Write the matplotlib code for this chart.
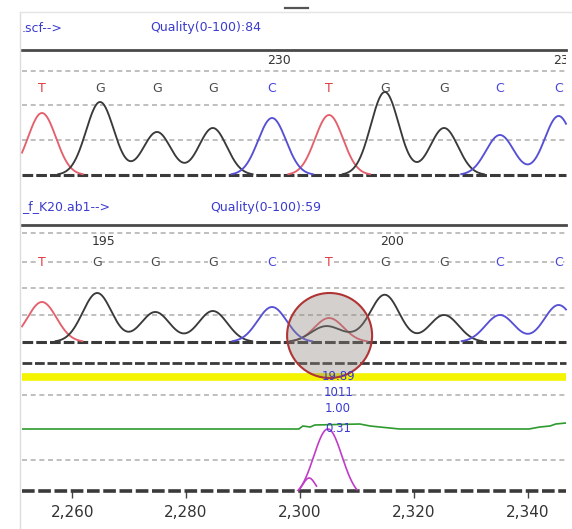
import numpy as np
import matplotlib
matplotlib.use("Agg")
import matplotlib.pyplot as plt
from matplotlib.patches import Ellipse
from matplotlib.lines import Line2D

# ---------------- data ----------------
bases = ['T', 'G', 'G', 'G', 'C', 'T', 'G', 'G', 'C', 'C']
top_file = ".scf-->"
top_quality = 84
bot_file = "_f_K20.ab1-->"
bot_quality = 59

top_peak_pos = [2254.7, 2264.9, 2274.9, 2284.7, 2295.1, 2305.1, 2314.9, 2325.3, 2335.1, 2345.4]
top_peak_h = [62, 73, 43, 47, 57, 60, 83, 47, 40, 59]
top_seq_labels = ['230', '235']
top_seq_idx = [4, 9]

bot_peak_pos = [2254.7, 2264.4, 2274.6, 2284.7, 2295.1, 2305.1, 2314.9, 2325.3, 2335.1, 2345.4]
bot_peak_h = [40, 49, 30, 31, 35, 24, 47, 27, 27, 37]
bot_extra_base = ['G', 'G']
bot_extra_pos = [2304.4, 2308.9]
bot_extra_h = [15, 4]
bot_seq_labels = ['195', '200']
bot_seq_idx = [1, 6]

green_x = [2251.2, 2299.8, 2300.5, 2301.8, 2302.6, 2310.5, 2312.3, 2314.0, 2317.5,
           2340.2, 2342.1, 2343.9, 2344.9, 2346.7]
green_y = [62, 62, 65, 64, 66, 67, 65, 64, 62, 62, 64, 65, 67, 68]

mag_pos = [2304.9, 2301.6]
mag_h = [62, 13]
mag_lo = [2299.6, 2299.6]
mag_hi = [2310.0, 2302.9]

highlight_pos = 2305.2
annot_values = ['19.89', '1011', '1.00', '0.31']
annot_y = [114, 98, 82, 63]

xticks = [2260, 2280, 2300, 2320, 2340]
xtick_labels = ['2,260', '2,280', '2,300', '2,320', '2,340']

# ---------------- style ----------------
W, H = 572, 529
XLIM = (2251.2, 2346.7)
PX_PER_UNIT = 544 / (XLIM[1] - XLIM[0])
COL = {'T': '#e4606c', 'G': '#3a3a3a', 'C': '#5650d4'}
LCOL = {'T': '#e03a40', 'G': '#4a4a4a', 'C': '#4a44d8'}
BLUE_TXT = '#3b3bcf'
FONT = 'DejaVu Sans'

fig = plt.figure(figsize=(W / 100, H / 100), dpi=100)
fig.patch.set_facecolor('white')


def add_ax(x0, y0, x1, y1):
    ax = fig.add_axes([x0 / W, 1 - y1 / H, (x1 - x0) / W, (y1 - y0) / H])
    ax.set_xlim(*XLIM)
    ax.set_ylim(0, y1 - y0)
    ax.set_facecolor('none')
    for s in ax.spines.values():
        s.set_visible(False)
    ax.set_xticks([])
    ax.set_yticks([])
    return ax


def light_dash(ax, y, dashes=(3, 2.2)):
    ax.axhline(y, color='#b4b4b4', lw=1.2, dashes=dashes, zorder=1)


def dark_base(ax, y=0, lw=2.2):
    ax.axhline(y, color='#3a3a3a', lw=lw, dashes=(3.5, 1.0), zorder=2, clip_on=False)


xs = np.linspace(XLIM[0], XLIM[1], 1200)


def draw_traces(ax, pos, h, base_list, sig):
    for b in ['T', 'G', 'C']:
        y = np.zeros_like(xs)
        for p, hh, bb in zip(pos, h, base_list):
            if bb == b:
                y += hh * np.exp(-(xs - p) ** 2 / (2 * sig ** 2))
        y = np.where(y < 0.8, np.nan, y)
        ax.plot(xs, y, color=COL[b], lw=1.35, zorder=3, clip_on=False)


# frame lines
fig.add_artist(Line2D([20 / W, 20 / W], [0, 1 - 12 / H], color='#dcdcdc', lw=1))
fig.add_artist(Line2D([20 / W, 1], [1 - 12 / H, 1 - 12 / H], color='#e4e4e4', lw=1))
fig.add_artist(Line2D([285 / W, 308 / W], [1 - 8 / H, 1 - 8 / H], color='#555555', lw=1.6))

# headers
fig.text(22 / W, 1 - 28 / H, top_file, color=BLUE_TXT, fontsize=9, va='center', family=FONT)
fig.text(150 / W, 1 - 28 / H, f"Quality(0-100):{top_quality}", color=BLUE_TXT, fontsize=9,
         va='center', family=FONT)
fig.text(22 / W, 1 - 207 / H, bot_file, color=BLUE_TXT, fontsize=9, va='center', family=FONT)
fig.text(210 / W, 1 - 207 / H, f"Quality(0-100):{bot_quality}", color=BLUE_TXT, fontsize=9,
         va='center', family=FONT)

# ---------------- panel 1 ----------------
ax1 = add_ax(22, 50, 566, 175)
ax1.spines['top'].set_visible(True)
ax1.spines['top'].set_color('#4a4a4a')
ax1.spines['top'].set_linewidth(2)
light_dash(ax1, 104)
light_dash(ax1, 70)
light_dash(ax1, 35)
dark_base(ax1)
for lab, i in zip(top_seq_labels, top_seq_idx):
    ax1.text(top_peak_pos[i] + 1.2, 108, lab, ha='center', va='bottom', fontsize=9,
             color='#333333', family=FONT, clip_on=True)
for b, p in zip(bases, top_peak_pos):
    ax1.text(p, 87, b, ha='center', va='center', fontsize=9, color=LCOL[b], family=FONT)
draw_traces(ax1, top_peak_pos, top_peak_h, bases, 2.45)

# ---------------- panel 2 ----------------
ax2 = add_ax(22, 225, 566, 342)
ax2.spines['top'].set_visible(True)
ax2.spines['top'].set_color('#4a4a4a')
ax2.spines['top'].set_linewidth(2)
light_dash(ax2, 109)
light_dash(ax2, 80)
light_dash(ax2, 54)
light_dash(ax2, 27)
dark_base(ax2)
for lab, i in zip(bot_seq_labels, bot_seq_idx):
    ax2.text(bot_peak_pos[i] + 1.2, 94, lab, ha='center', va='bottom', fontsize=9,
             color='#333333', family=FONT, clip_on=True)
for b, p in zip(bases, bot_peak_pos):
    ax2.text(p, 80, b, ha='center', va='center', fontsize=9, color=LCOL[b], family=FONT,
             bbox=dict(facecolor='white', edgecolor='none', pad=0.2))
draw_traces(ax2, bot_peak_pos + bot_extra_pos, bot_peak_h + bot_extra_h,
            bases + bot_extra_base, 2.55)

# ---------------- panel 3 (bottom band) ----------------
ax3 = add_ax(22, 342, 566, 491)
dark_base(ax3, 128, lw=2.0)
ax3.axhline(114, color='#f4f400', lw=5.5, zorder=1)
light_dash(ax3, 96)
light_dash(ax3, 31)
dark_base(ax3, 0, lw=2.6)
ax3.plot(green_x, green_y, color='#2e9a2e', lw=1.2, zorder=3)
for p, hh, lo, hi in zip(mag_pos, mag_h, mag_lo, mag_hi):
    mx = np.linspace(lo, hi, 200)
    sig = (hi - lo) / 4.2 if hh > 20 else (hi - lo) / 3.0
    my = hh * np.exp(-(mx - p) ** 2 / (2 * sig ** 2))
    my = my - my.min()
    my = my * hh / my.max()
    ax3.plot(mx, my, color='#c03cc8', lw=1.2, zorder=3)

circ = Ellipse((highlight_pos, 491 - 335.5), width=85 / PX_PER_UNIT, height=85,
               facecolor=(0.55, 0.52, 0.50, 0.38), edgecolor='#b03434', lw=1.5,
               zorder=4, clip_on=False)
ax3.add_patch(circ)
for v, y in zip(annot_values, annot_y):
    ax3.text(highlight_pos + 1.5, y, v, ha='center', va='center', fontsize=8.5,
             color=BLUE_TXT, family=FONT, zorder=5)

ax3.set_xticks(xticks)
ax3.set_xticklabels(xtick_labels, fontsize=11, color='#333333', family=FONT)
ax3.tick_params(axis='x', direction='out', length=5, width=1, color='#444444', pad=5)

fig.savefig('out.png', dpi=100, facecolor='white')
